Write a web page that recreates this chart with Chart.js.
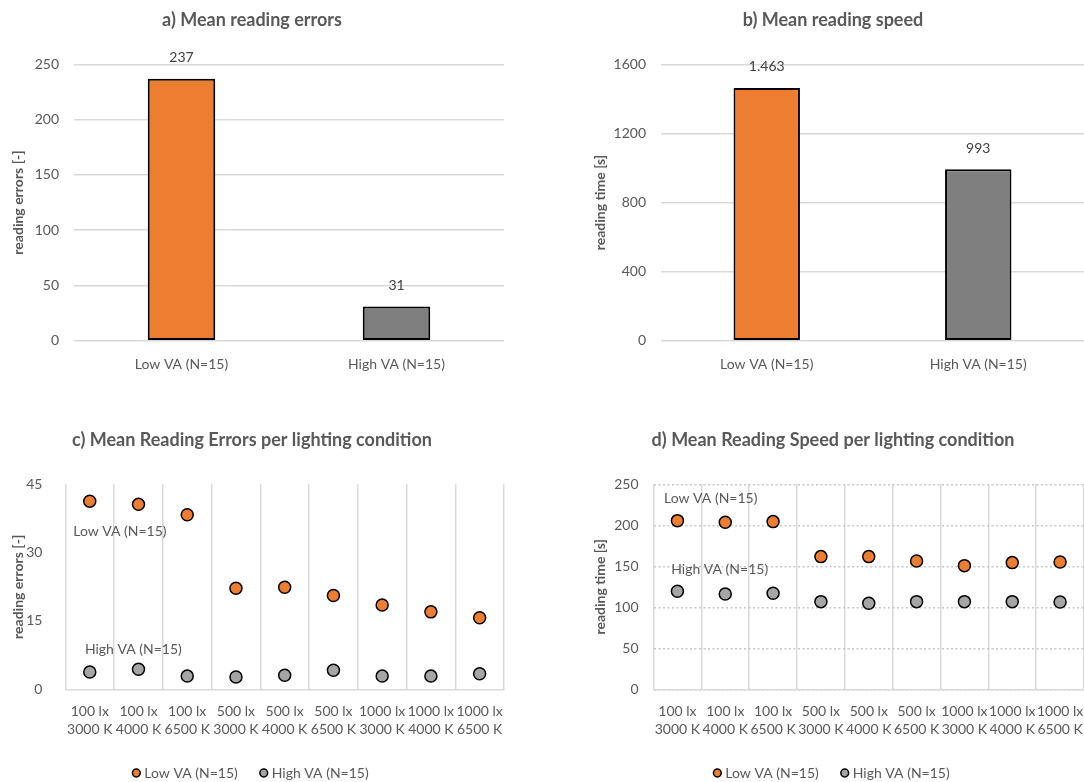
<!DOCTYPE html>
<html lang="en">
<head>
<meta charset="UTF-8">
<title>Reading errors and reading speed</title>
<style>
  html, body { margin: 0; padding: 0; background: #fff; overflow: hidden; }
  body { width: 1084px; height: 782px; position: relative; }
  canvas { position: absolute; }
</style>
</head>
<body>
<canvas id="chartA" width="540" height="390" style="left:0;top:0"></canvas>
<canvas id="chartB" width="502" height="390" style="left:582px;top:0"></canvas>
<canvas id="chartC" width="540" height="400" style="left:0;top:390px"></canvas>
<canvas id="chartD" width="502" height="400" style="left:582px;top:390px"></canvas>

<script src="https://cdn.jsdelivr.net/npm/chart.js@4.4.1/dist/chart.umd.min.js"></script>
<script>
// data
const groups = ['Low VA (N=15)', 'High VA (N=15)'];
const meanErrors = [237, 31];
const meanTime = [1463, 993];

const lux = ['100 lx', '100 lx', '100 lx', '500 lx', '500 lx', '500 lx', '1000 lx', '1000 lx', '1000 lx'];
const cct = ['3000 K', '4000 K', '6500 K', '3000 K', '4000 K', '6500 K', '3000 K', '4000 K', '6500 K'];

const errorsLow = [41.3, 40.6, 38.3, 22.2, 22.4, 20.6, 18.5, 17.0, 15.7];
const errorsHigh = [3.8, 4.4, 2.9, 2.7, 3.1, 4.2, 2.9, 2.9, 3.4];
const timeLow = [205.7, 203.7, 204.5, 161.8, 161.8, 156.5, 150.8, 154.5, 155.3];
const timeHigh = [119.5, 116.3, 117.1, 106.9, 104.9, 106.9, 106.9, 106.9, 106.5];

const ORANGE = '#ED7D31';
const DARK_GREY = '#7F7F7F';
const LIGHT_GREY = '#A5A5A5';
const GRID = '#D9D9D9';
const TEXT = '#595959';

Chart.defaults.font.family = 'Lato, sans-serif';
Chart.defaults.color = TEXT;

// number above each bar, German style thousands separator like the original
const valueLabels = {
  id: 'valueLabels',
  afterDatasetsDraw(chart) {
    const ctx = chart.ctx;
    const meta = chart.getDatasetMeta(0);
    const values = chart.data.datasets[0].data;
    ctx.save();
    ctx.font = '14px Lato, sans-serif';
    ctx.fillStyle = '#404040';
    ctx.textAlign = 'center';
    ctx.textBaseline = 'middle';
    meta.data.forEach((bar, i) => {
      ctx.fillText(values[i].toLocaleString('de-DE'), bar.x, bar.y - 21);
    });
    ctx.restore();
  }
};

// series names written inside the plot, placed in data units
const seriesNotes = {
  id: 'seriesNotes',
  afterDatasetsDraw(chart, args, opts) {
    const {ctx, scales: {x, y}} = chart;
    const step = x.getPixelForValue(1) - x.getPixelForValue(0);
    ctx.save();
    ctx.font = '14px Lato, sans-serif';
    ctx.fillStyle = TEXT;
    ctx.textAlign = 'left';
    ctx.textBaseline = 'middle';
    (opts.items || []).forEach(n => {
      ctx.fillText(n.text, x.getPixelForValue(n.index) + n.dx * step, y.getPixelForValue(n.value));
    });
    ctx.restore();
  }
};

function barChart(id, title, values, yTitle, yMax, yStep, yWidth, rightPad) {
  return new Chart(document.getElementById(id), {
    type: 'bar',
    data: {
      labels: groups,
      datasets: [{
        data: values,
        backgroundColor: [ORANGE, DARK_GREY],
        borderColor: '#000',
        borderWidth: 2,
        borderSkipped: false,
        barPercentage: 0.314,
        categoryPercentage: 1
      }]
    },
    options: {
      responsive: false,
      animation: false,
      layout: { autoPadding: false, padding: { left: 0, right: rightPad, top: 0, bottom: 0 } },
      plugins: {
        legend: { display: false },
        tooltip: { enabled: false },
        title: {
          display: true, text: title, color: TEXT,
          font: { size: 18, weight: 'bold' },
          padding: { top: 9.2, bottom: 33.5 }
        }
      },
      scales: {
        x: {
          grid: { display: false },
          border: { display: false },
          ticks: { font: { size: 14 }, padding: 7 },
          afterFit: s => { s.height = 49.3; s.paddingLeft = 0; s.paddingRight = 0; }
        },
        y: {
          min: 0, max: yMax,
          ticks: { stepSize: yStep, font: { size: 14 }, padding: 15, callback: v => String(v) },
          grid: { color: GRID, lineWidth: 1.5, drawTicks: false },
          border: { display: false },
          title: { display: true, text: yTitle, font: { size: 14, weight: 'bold' }, padding: { top: 10, bottom: 0 } },
          afterFit: s => { s.width = yWidth; }
        }
      }
    },
    plugins: [valueLabels]
  });
}

function dotChart(id, title, low, high, yTitle, yMax, yStep, yWidth, rightPad, dotted, notes) {
  const labels = lux.map((l, i) => [l, cct[i]]);
  return new Chart(document.getElementById(id), {
    type: 'line',
    data: {
      labels: labels,
      datasets: [
        { label: 'Low VA (N=15)', data: low, showLine: false, backgroundColor: ORANGE, borderColor: '#000',
          borderWidth: 1.5, pointRadius: 6, pointBorderWidth: 1.5, pointBackgroundColor: ORANGE, pointBorderColor: '#000' },
        { label: 'High VA (N=15)', data: high, showLine: false, backgroundColor: LIGHT_GREY, borderColor: '#000',
          borderWidth: 1.5, pointRadius: 6, pointBorderWidth: 1.5, pointBackgroundColor: LIGHT_GREY, pointBorderColor: '#000' }
      ]
    },
    options: {
      responsive: false,
      animation: false,
      layout: { autoPadding: false, padding: { left: 0, right: rightPad, top: 0, bottom: 0 } },
      plugins: {
        tooltip: { enabled: false },
        title: {
          display: true, text: title, color: TEXT,
          font: { size: 18, weight: 'bold' },
          padding: { top: 39.2, bottom: 33.5 }
        },
        legend: {
          position: 'bottom',
          labels: {
            usePointStyle: true, pointStyle: 'circle', boxWidth: 2, boxHeight: 5.5,
            padding: 25, color: TEXT, font: { size: 14 }
          }
        },
        seriesNotes: { items: notes }
      },
      scales: {
        x: {
          offset: true,
          grid: { offset: true, color: GRID, lineWidth: 1.5, drawTicks: false },
          border: { display: true, color: GRID, width: 1.5 },
          ticks: { font: { size: 14, lineHeight: 1.31 }, padding: 13, maxRotation: 0, autoSkip: false },
          afterFit: s => { s.height = 51.7; s.paddingLeft = 0; s.paddingRight = 0; }
        },
        y: {
          min: 0, max: yMax,
          ticks: { stepSize: yStep, font: { size: 14 }, padding: 15 },
          grid: dotted ? { color: '#C8C8C8', lineWidth: 1.5, drawTicks: false } : { display: false },
          border: dotted ? { display: false, dash: [2, 2.5] } : { display: false },
          title: { display: true, text: yTitle, font: { size: 14, weight: 'bold' }, padding: { top: 10, bottom: 0 } },
          afterFit: s => { s.width = yWidth; }
        }
      }
    },
    plugins: [seriesNotes]
  });
}

barChart('chartA', 'a) Mean reading errors', meanErrors, 'reading errors [-]', 250, 50, 74, 36);
barChart('chartB', 'b) Mean reading speed', meanTime, 'reading time [s]', 1600, 400, 79, 0);

dotChart('chartC', 'c) Mean Reading Errors per lighting condition', errorsLow, errorsHigh,
  'reading errors [-]', 45, 15, 65.4, 36, false, [
    { text: 'Low VA (N=15)', index: 0, dx: -0.34, value: 34.75 },
    { text: 'High VA (N=15)', index: 0, dx: -0.1, value: 8.8 }
  ]);
dotChart('chartD', 'd) Mean Reading Speed per lighting condition', timeLow, timeHigh,
  'reading time [s]', 250, 50, 71.5, 0, true, [
    { text: 'Low VA (N=15)', index: 0, dx: -0.28, value: 232.9 },
    { text: 'High VA (N=15)', index: 0, dx: -0.13, value: 146.3 }
  ]);
</script>
</body>
</html>
